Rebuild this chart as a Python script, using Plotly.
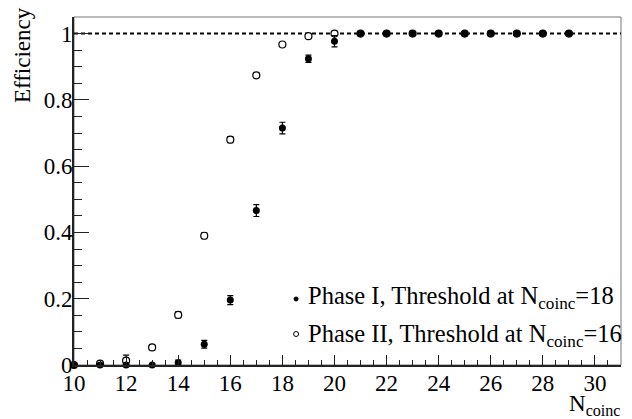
import plotly.graph_objects as go

# Data
n_coinc = [10, 11, 12, 13, 14, 15, 16, 17, 18, 19, 20, 21, 22, 23, 24, 25, 26, 27, 28, 29]
eff_phase1 = [0.0, 0.0, 0.0, 0.0, 0.007, 0.0625, 0.196, 0.466, 0.715, 0.924, 0.977,
              1.0, 1.0, 1.0, 1.0, 1.0, 1.0, 1.0, 1.0, 1.0]
err_phase1 = [0.0, 0.0, 0.0, 0.004, 0.0075, 0.0115, 0.0136, 0.018, 0.0175, 0.011, 0.017,
              0.0, 0.0, 0.0, 0.0, 0.0, 0.0, 0.0, 0.0, 0.0]
eff_phase2 = [0.0, 0.004, 0.013, 0.053, 0.151, 0.39, 0.68, 0.874, 0.967, 0.992, 1.0,
              1.0, 1.0, 1.0, 1.0, 1.0, 1.0, 1.0, 1.0, 1.0]
err_phase2 = [0.0, 0.003, 0.017, 0.008, 0.009, 0.009, 0.009, 0.007, 0.004, 0.003, 0.0,
              0.0, 0.0, 0.0, 0.0, 0.0, 0.0, 0.0, 0.0, 0.0]
x_ticks = [10, 12, 14, 16, 18, 20, 22, 24, 26, 28, 30]
y_ticks = [0, 0.2, 0.4, 0.6, 0.8, 1]
legend_labels = ["Phase I, Threshold at N<sub>coinc</sub>=18",
                 "Phase II, Threshold at N<sub>coinc</sub>=16"]

FONT = "Liberation Serif"
tickfont = dict(family=FONT, size=23, color="black")
fig = go.Figure()

fig.add_shape(type="line", xref="x", yref="y", x0=10, x1=31, y0=1, y1=1,
              line=dict(color="black", width=2, dash="4px,3px"), layer="below")

fig.add_trace(go.Scatter(
    x=n_coinc, y=eff_phase2, mode="markers",
    marker=dict(symbol="circle", size=7, color="white", line=dict(width=1.2, color="black")),
    error_y=dict(type="data", array=err_phase2, visible=True, color="black", thickness=1.2, width=3),
    showlegend=False, cliponaxis=False))
fig.add_trace(go.Scatter(
    x=n_coinc, y=eff_phase1, mode="markers",
    marker=dict(symbol="circle", size=7, color="black"),
    error_y=dict(type="data", array=err_phase1, visible=True, color="black", thickness=1.2, width=3),
    showlegend=False, cliponaxis=False))

# frame
fig.add_shape(type="rect", xref="paper", yref="paper", x0=0, x1=1, y0=0, y1=1,
              line=dict(color="#777", width=1), layer="below")

ann = []
ann.append(dict(text="Efficiency", xref="paper", yref="paper", x=-0.093, y=1.0345,
                xanchor="center", yanchor="top", textangle=-90, showarrow=False,
                font=dict(family=FONT, size=23, color="black")))
ann.append(dict(text="N<sub>coinc</sub>", xref="paper", yref="paper", x=1.002, y=-0.07,
                xanchor="right", yanchor="top", showarrow=False,
                font=dict(family=FONT, size=23, color="black")))
leg_y = [0.1954, 0.086]
for i in range(2):
    ann.append(dict(text=legend_labels[i], xref="paper", yref="paper", x=0.4245, y=leg_y[i],
                    xanchor="left", yanchor="middle", showarrow=False,
                    font=dict(family=FONT, size=24.5, color="black")))

# legend bullets (pixel-sized circles)
fig.add_shape(type="circle", xref="paper", yref="paper", xsizemode="pixel", ysizemode="pixel",
              xanchor=0.406, yanchor=0.1897, x0=-2, x1=2, y0=-2, y1=2,
              fillcolor="black", line=dict(color="black", width=1))
fig.add_shape(type="circle", xref="paper", yref="paper", xsizemode="pixel", ysizemode="pixel",
              xanchor=0.406, yanchor=0.089, x0=-2.5, x1=2.5, y0=-2.5, y1=2.5,
              fillcolor="white", line=dict(color="black", width=1))

fig.update_layout(
    width=632, height=419, margin=dict(l=74, r=11, t=17, b=54),
    paper_bgcolor="white", plot_bgcolor="white", annotations=ann,
    font=dict(family=FONT, size=23, color="black"),
    xaxis=dict(range=[10, 31], tickmode="array", tickvals=x_ticks,
               ticktext=[str(v) for v in x_ticks], tickfont=tickfont, ticklabelstandoff=-4,
               showgrid=False, zeroline=False, showline=True, linecolor="#222", linewidth=2,
               ticks="inside", ticklen=10, tickwidth=1, tickcolor="#222",
               minor=dict(ticks="inside", ticklen=5, dtick=0.5, tick0=10, tickcolor="#222")),
    yaxis=dict(range=[0, 1.05], tickmode="array", tickvals=y_ticks,
               ticktext=[("%g" % v) for v in y_ticks], tickfont=tickfont, ticklabelstandoff=-5,
               showgrid=False, zeroline=False, showline=True, linecolor="#222", linewidth=2,
               ticks="inside", ticklen=15, tickwidth=1, tickcolor="#222",
               minor=dict(ticks="inside", ticklen=8, dtick=0.05, tick0=0, tickcolor="#222")),
)
fig.write_html("out.html", config={"displayModeBar": False},
               post_script="document.body.style.margin='0';")
